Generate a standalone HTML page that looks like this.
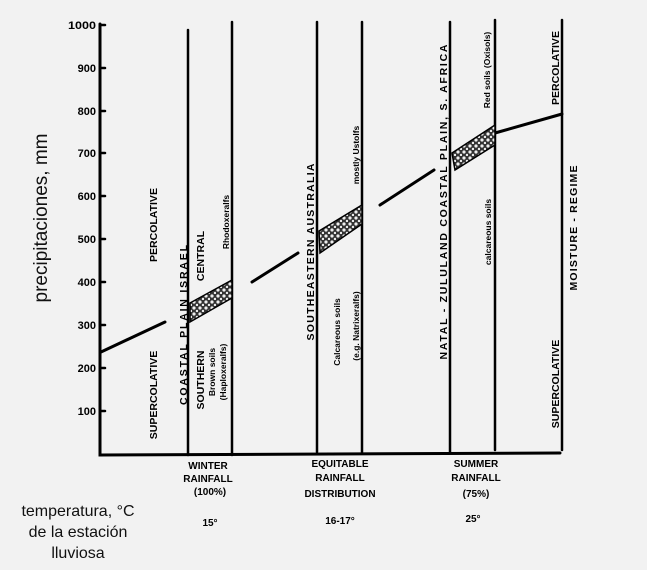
<!DOCTYPE html>
<html><head><meta charset="utf-8"><style>
html,body{margin:0;padding:0;background:#f2f2f2;}
svg{display:block;}
.t{font-family:"Liberation Sans",sans-serif;font-weight:bold;fill:#000;}
</style></head><body>
<svg width="647" height="570" viewBox="0 0 647 570" xmlns="http://www.w3.org/2000/svg">
<rect width="647" height="570" fill="#f2f2f2"/>
<defs><pattern id="dots" width="6" height="6" patternUnits="userSpaceOnUse"><rect width="6" height="6" fill="#333"/><circle cx="2" cy="2" r="1.6" fill="#eee"/><circle cx="5" cy="5" r="1.2" fill="#eee"/></pattern></defs>
<g stroke="#000" fill="none" stroke-linecap="round">
<path d="M100 24 L100 455 L560 453" stroke-width="3"/>
<g stroke-width="2.5">
<path d="M100 25h5M100 68h5M100 111h5M100 153h5M100 196h5M100 239h5M100 282h5M100 325h5M100 368h5M100 411h5"/>
<path d="M188 30V455M232 22V455M317 22V452M362 22V452M450 22V452M495 20V450M562 20V450"/>
<path d="M101 352L165 322M252 282L298 253M380 205L434 170M495 133L562 114" stroke-width="3"/>
</g>
</g>
<g stroke="#000" stroke-width="1.5">
<polygon points="190,303 232,280 232,298 190,322" fill="url(#dots)"/>
<polygon points="319,231 362,205 362,224 320,253" fill="url(#dots)"/>
<polygon points="452,153 495,125 495,145 455,170" fill="url(#dots)"/>
</g>
<g class="t" font-size="11" text-anchor="end">
<text x="96" y="29" textLength="28" lengthAdjust="spacingAndGlyphs">1000</text>
<text x="96" y="72">900</text><text x="96" y="115">800</text><text x="96" y="157">700</text>
<text x="96" y="200">600</text><text x="96" y="243">500</text><text x="96" y="286">400</text>
<text x="96" y="329">300</text><text x="96" y="372">200</text><text x="96" y="415">100</text>
</g>
<text x="0" y="0" transform="translate(47 218) rotate(-90)" text-anchor="middle" font-family="Liberation Sans,sans-serif" font-size="19" fill="#111">precipitaciones,  mm</text>
<g class="t" font-size="10.5" text-anchor="middle">
<text transform="translate(157 225) rotate(-90)">PERCOLATIVE</text>
<text transform="translate(157 395) rotate(-90)">SUPERCOLATIVE</text>
<text transform="translate(187 325) rotate(-90)" textLength="160" lengthAdjust="spacing">COASTAL  PLAIN  ISRAEL</text>
<text transform="translate(204 380) rotate(-90)">SOUTHERN</text>
<text transform="translate(204 256) rotate(-90)">CENTRAL</text>
<text transform="translate(215 372) rotate(-90)" font-size="8.5">Brown soils</text>
<text transform="translate(226 372) rotate(-90)" font-size="8.5">(Haploxeralfs)</text>
<text transform="translate(229 222) rotate(-90)" font-size="8.5">Rhodoxeralfs</text>
<text transform="translate(314 252) rotate(-90)" textLength="177" lengthAdjust="spacing">SOUTHEASTERN  AUSTRALIA</text>
<text transform="translate(340 332) rotate(-90)" font-size="8.5">Calcareous soils</text>
<text transform="translate(359 326) rotate(-90)" font-size="8.5">(e.g. Natrixeralfs)</text>
<text transform="translate(359 155) rotate(-90)" font-size="8.5">mostly Ustolfs</text>
<text transform="translate(447 202) rotate(-90)" textLength="315" lengthAdjust="spacing">NATAL - ZULULAND  COASTAL  PLAIN, S. AFRICA</text>
<text transform="translate(490 70) rotate(-90)" font-size="8.5">Red soils (Oxisols)</text>
<text transform="translate(491 232) rotate(-90)" font-size="8.5">calcareous soils</text>
<text transform="translate(559 68) rotate(-90)">PERCOLATIVE</text>
<text transform="translate(577 228) rotate(-90)" textLength="125" lengthAdjust="spacing">MOISTURE - REGIME</text>
<text transform="translate(559 384) rotate(-90)">SUPERCOLATIVE</text>
</g>
<g class="t" font-size="10" text-anchor="middle">
<text x="208" y="469">WINTER</text><text x="208" y="482">RAINFALL</text><text x="210" y="495">(100%)</text>
<text x="340" y="467">EQUITABLE</text><text x="340" y="481">RAINFALL</text><text x="340" y="497">DISTRIBUTION</text>
<text x="476" y="467">SUMMER</text><text x="476" y="481">RAINFALL</text><text x="476" y="497">(75%)</text>
<text x="210" y="526">15°</text><text x="340" y="524">16-17°</text><text x="473" y="522">25°</text>
</g>
<g font-family="Liberation Sans,sans-serif" font-size="16" fill="#111" text-anchor="middle">
<text x="78" y="516">temperatura,  °C</text>
<text x="78" y="537">de la estación</text>
<text x="78" y="558">lluviosa</text>
</g>
</svg>
</body></html>
